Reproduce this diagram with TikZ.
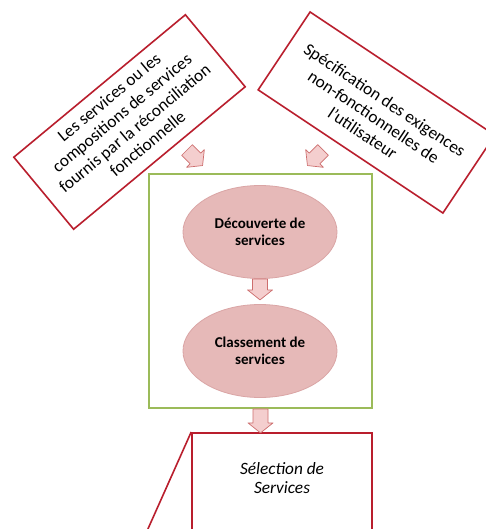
\documentclass[tikz,border=0pt]{standalone}
\usepackage{fontspec}
\setmainfont{Carlito}
\usetikzlibrary{shapes.geometric}
\definecolor{boxred}{RGB}{185,30,45}
\definecolor{boxgreen}{RGB}{155,187,89}
\definecolor{ellfill}{RGB}{230,185,184}
\definecolor{ellline}{RGB}{218,165,165}
\definecolor{arrfill}{RGB}{244,206,206}
\definecolor{arrline}{RGB}{205,110,110}
\tikzset{
  redbox/.style={draw=boxred, line width=1.6pt, fill=white, inner sep=0pt},
  tiltbox/.style={redbox, minimum width=223pt, minimum height=93.6pt,
    align=center, font=\fontsize{17.3}{20}\selectfont},
  greenbox/.style={draw=boxgreen, line width=1.8pt, inner sep=0pt},
  phase/.style={ellipse, fill=ellfill, draw=ellline, line width=0.8pt,
    minimum width=154pt, minimum height=93pt, inner sep=0pt, align=center,
    font=\fontsize{15}{17.5}\selectfont\bfseries},
  pics/barrow/.style={code={
    \draw[fill=arrfill, draw=arrline, line width=0.7pt, line join=round]
      (-7.5,0) -- (-7.5,{-(#1-10)}) -- (-12.5,{-(#1-10)}) -- (0,-#1)
      -- (12.5,{-(#1-10)}) -- (7.5,{-(#1-10)}) -- (7.5,0) -- cycle;}}
}
\begin{document}
\begin{tikzpicture}[x=1pt,y=1pt]
\useasboundingbox (0,0) rectangle (485,-529);
\fill[white] (0,0) rectangle (485,-529);
% tilted input boxes
\node[tiltbox, rotate=39.7] (inA) at (129.5,-122)
  {\mbox{}\\[-12pt]Les services ou les\\compositions de services\\fournis par la réconciliation\\fonctionnelle};
\node[tiltbox, rotate=-33.7, minimum width=222pt] (inB) at (376.5,-112.5)
  {\mbox{}\\[2pt]Spécification des exigences\\non-fonctionnelles de\\l’utilisateur};
% group box
\node[greenbox, minimum width=223pt, minimum height=234pt] (grp) at (260.5,-291) {};
% phases
\node[phase] (e1) at (260,-232) {Découverte de\\services};
\node[phase] (e2) at (260,-351) {Classement de\\services};
% selection box
\node[redbox, minimum width=180pt, minimum height=100pt, anchor=north,
  align=center, text depth=10pt, font=\fontsize{17.3}{19}\selectfont\itshape] (sel) at (282,-432)
  {Sélection de\\Services};
\coordinate (selfoot) at (143,-540);
\draw[boxred, line width=1.6pt] (sel.north west) -- (selfoot);
% block arrows
\coordinate (pA) at (187,-150);
\coordinate (pB) at (323,-150);
\path (pA) pic[rotate=45] {barrow=22};
\path (pB) pic[rotate=-45] {barrow=22};
\path (e1.south) pic {barrow=21};
\path (grp.south) pic {barrow=24};
\end{tikzpicture}
\end{document}
